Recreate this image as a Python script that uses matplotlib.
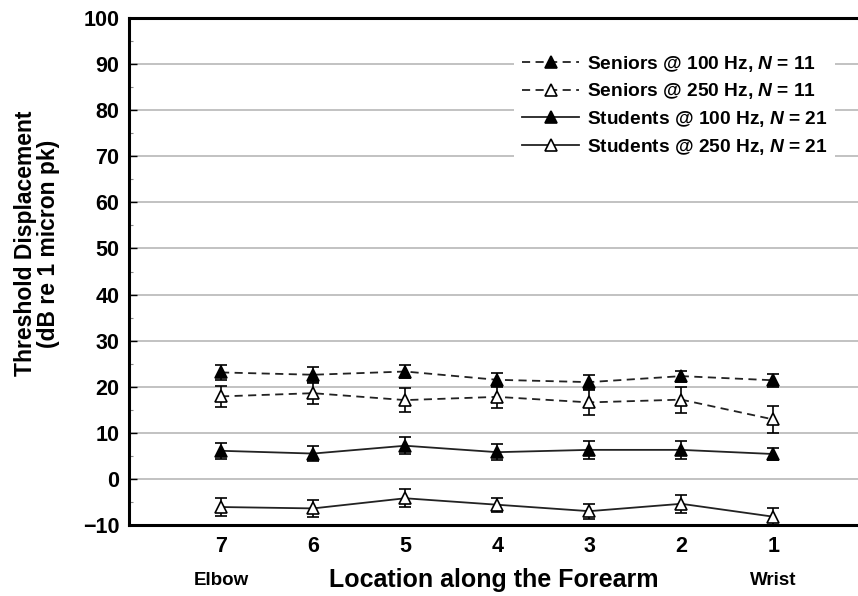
import numpy as np
import matplotlib
matplotlib.use("Agg")
import matplotlib.pyplot as plt

plt.rcParams['font.family'] = ['Liberation Sans', 'DejaVu Sans']
plt.rcParams['font.weight'] = 'bold'
plt.rcParams['mathtext.fontset'] = 'custom'
plt.rcParams['mathtext.bfit'] = 'Liberation Sans:italic:bold'

locations = [7, 6, 5, 4, 3, 2, 1]

seniors_100 = [23.1, 22.6, 23.3, 21.5, 21.0, 22.3, 21.4]
seniors_100_err = [1.6, 1.6, 1.5, 1.5, 1.5, 1.2, 1.4]
seniors_250 = [17.9, 18.6, 17.1, 17.8, 16.6, 17.2, 12.9]
seniors_250_err = [2.3, 2.3, 2.6, 2.4, 2.7, 2.8, 3.0]
students_100 = [6.1, 5.5, 7.2, 5.8, 6.3, 6.3, 5.4]
students_100_err = [1.7, 1.7, 1.9, 1.8, 2.0, 2.0, 1.4]
students_250 = [-6.1, -6.4, -4.2, -5.6, -7.0, -5.4, -8.2]
students_250_err = [2.0, 1.9, 2.0, 1.5, 1.6, 2.0, 1.8]

labels = [r'Seniors @ 100 Hz, $\mathbfit{N}$ = 11',
          r'Seniors @ 250 Hz, $\mathbfit{N}$ = 11',
          r'Students @ 100 Hz, $\mathbfit{N}$ = 21',
          r'Students @ 250 Hz, $\mathbfit{N}$ = 21']

fig = plt.figure(figsize=(8.58, 5.96), dpi=100)
ax = fig.add_axes([129 / 858, 71 / 596, 729 / 858, 507 / 596])

series = [
    (seniors_100, seniors_100_err, 'black', '--'),
    (seniors_250, seniors_250_err, 'white', '--'),
    (students_100, students_100_err, 'black', '-'),
    (students_250, students_250_err, 'white', '-'),
]

for (vals, err, face, ls), lab in zip(series, labels):
    ax.errorbar(locations, vals, yerr=err, fmt='none', ecolor='black',
                elinewidth=1.2, capsize=4.5, capthick=1.2, zorder=3)
    line, = ax.plot(locations, vals, linestyle=ls, color='#222222', lw=1.3,
                    marker='^', markersize=8.5, markerfacecolor=face,
                    markeredgecolor='black', markeredgewidth=1.2,
                    label=lab, zorder=4)
    if ls == '--':
        line.set_dashes((4.5, 3))

ax.set_xlim(8, 0.08)
ax.set_ylim(-10, 100)
ax.set_xticks(locations)
ax.set_yticks(np.arange(-10, 101, 10))
ax.set_yticks(np.arange(-5, 100, 5), minor=True)
ax.set_yticklabels([('\u2212' + str(-v)) if v < 0 else str(v)
                    for v in range(-10, 101, 10)])

for v in range(0, 91, 10):
    ax.axhline(v, color='#b8b8b8', lw=1.2, zorder=1)

for s in ['left', 'bottom', 'top']:
    ax.spines[s].set_linewidth(2.2)
ax.spines['right'].set_visible(False)

ax.tick_params(axis='y', direction='in', length=6, width=1, labelsize=15.5, pad=7)
ax.tick_params(axis='y', which='minor', direction='in', length=3, width=0.8, color='#888888')
ax.tick_params(axis='x', length=0, labelsize=15.5, pad=8)
for t in ax.get_xticklabels() + ax.get_yticklabels():
    t.set_fontweight('bold')

ax.set_ylabel('Threshold Displacement\n(dB re 1 micron pk)', fontsize=16.5,
              fontweight='bold', linespacing=1.0)
ax.yaxis.set_label_coords(-0.094, 0.555)
ax.set_xlabel('Location along the Forearm', fontsize=18, fontweight='bold', labelpad=8)

ax.text(7, -0.11, 'Elbow', transform=ax.get_xaxis_transform(), ha='center', va='center',
        fontsize=13.5, fontweight='bold')
ax.text(1, -0.11, 'Wrist', transform=ax.get_xaxis_transform(), ha='center', va='center',
        fontsize=13.5, fontweight='bold')

leg = ax.legend(loc='upper right', bbox_to_anchor=(0.969, 0.945), frameon=True,
                fontsize=13.8, handlelength=3.0, labelspacing=0.4, borderaxespad=0,
                handletextpad=0.4, borderpad=0.4)
leg.get_frame().set_facecolor('white')
leg.get_frame().set_edgecolor('none')
leg.get_frame().set_alpha(1)
leg.set_zorder(5)
for t in leg.get_texts():
    t.set_fontweight('bold')

fig.savefig('out.png', dpi=100)
